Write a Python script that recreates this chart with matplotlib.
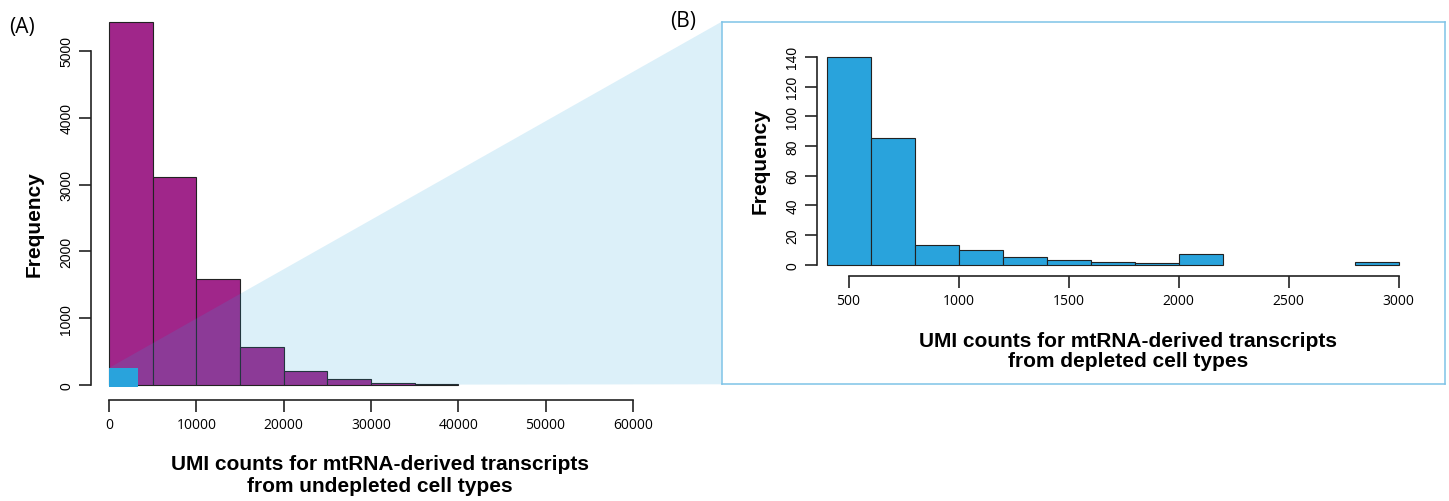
import matplotlib.pyplot as plt
import numpy as np
from matplotlib.patches import Polygon, Rectangle

# ── data ─────────────────────────────────────────────────────────────────────
undepleted_edges = [0, 5000, 10000, 15000, 20000, 25000, 30000, 35000, 40000]
undepleted_counts = [5440, 3110, 1580, 570, 210, 85, 25, 10]
undepleted_xticks = [0, 10000, 20000, 30000, 40000, 50000, 60000]
undepleted_yticks = [0, 1000, 2000, 3000, 4000, 5000]

depleted_edges = [400, 600, 800, 1000, 1200, 1400, 1600, 1800, 2000, 2200,
                  2400, 2600, 2800, 3000]
depleted_counts = [140, 85, 13, 10, 5, 3, 2, 1, 7, 0, 0, 0, 2]
depleted_xticks = [500, 1000, 1500, 2000, 2500, 3000]
depleted_yticks = [0, 20, 40, 60, 80, 100, 120, 140]

# region of panel A that panel B zooms into
zoom_x = (0, 3300)
zoom_y = (-25, 255)

PURPLE = '#A0268A'
BLUE = '#29A3DC'
LINE = '#222222'
TICK_FONT = 'Open Sans'
LABEL_FONT = 'Liberation Sans'

W, H = 1449, 502
fig = plt.figure(figsize=(W / 100, H / 100), dpi=100)
fig.patch.set_facecolor('white')


def px_axes(left, top, right, bottom, **kw):
    return fig.add_axes([left / W, 1 - bottom / H, (right - left) / W,
                         (bottom - top) / H], **kw)


def style_axes(ax, xb, yb):
    for s in ('top', 'right'):
        ax.spines[s].set_visible(False)
    for s in ('left', 'bottom'):
        ax.spines[s].set_color(LINE)
        ax.spines[s].set_linewidth(1.2)
    ax.spines['bottom'].set_bounds(*xb)
    ax.spines['left'].set_bounds(*yb)
    ax.tick_params(direction='out', length=8.5, width=1.2, color=LINE, pad=4)
    ax.tick_params(axis='y', labelrotation=90)
    for lab in ax.get_xticklabels():
        lab.set_fontfamily(TICK_FONT)
        lab.set_fontsize(10)
    for lab in ax.get_yticklabels():
        lab.set_fontfamily(LABEL_FONT)
        lab.set_fontsize(10)
        lab.set_va('center')
    ax.patch.set_alpha(0)


# ── panel A ──────────────────────────────────────────────────────────────────
ax_a = px_axes(90.7, 10, 700, 400.7)
ka = 10000 / 87.3
ax_a.set_xlim((90.7 - 109) * ka, (700 - 109) * ka)
kya = 1000 / 66.8
ax_a.set_ylim((386 - 400.7) * kya, (386 - 10) * kya)

ea = np.array(undepleted_edges)
ax_a.bar(ea[:-1], undepleted_counts, width=np.diff(ea), align='edge',
         color=PURPLE, edgecolor=LINE, linewidth=0.8, zorder=1)
ax_a.set_xticks(undepleted_xticks)
ax_a.set_yticks(undepleted_yticks)
style_axes(ax_a, (undepleted_xticks[0], undepleted_xticks[-1]),
           (undepleted_yticks[0], undepleted_yticks[-1]))

# ── panel B frame ────────────────────────────────────────────────────────────
ax_box = px_axes(721.7, 22.7, 1445.3, 385.3)
ax_box.set_xticks([])
ax_box.set_yticks([])
for s in ax_box.spines.values():
    s.set_color('#7EC3E7')
    s.set_linewidth(1.1)

# ── panel B ──────────────────────────────────────────────────────────────────
ax_b = px_axes(816.7, 40, 1420, 277)
kb = 500 / 110
ax_b.set_xlim((816.7 - 848.5) * kb + 500, (1420 - 848.5) * kb + 500)
kyb = 20 / 29.7
ax_b.set_ylim((265.7 - 277) * kyb, (265.7 - 40) * kyb)

eb = np.array(depleted_edges)
cb = np.array(depleted_counts)
keep = cb > 0
ax_b.bar(eb[:-1][keep], cb[keep], width=np.diff(eb)[keep], align='edge',
         color=BLUE, edgecolor=LINE, linewidth=0.8)
ax_b.set_xticks(depleted_xticks)
ax_b.set_yticks(depleted_yticks)
style_axes(ax_b, (depleted_xticks[0], depleted_xticks[-1]),
           (depleted_yticks[0], depleted_yticks[-1]))

# ── zoom connector ───────────────────────────────────────────────────────────
to_fig = fig.transFigure.inverted()
pts = [
    ax_a.transData.transform((zoom_x[0], zoom_y[1])),
    ax_box.transAxes.transform((0, 1)),
    ax_box.transAxes.transform((0, 0)),
    ax_a.transData.transform((zoom_x[0], 0)),
]
pts = to_fig.transform(np.array(pts))
ax_a.add_patch(Polygon(pts, closed=True, transform=fig.transFigure,
                       facecolor=BLUE, alpha=0.16, edgecolor='none',
                       clip_on=False, zorder=2))
ax_a.add_patch(Rectangle((zoom_x[0], zoom_y[0]), zoom_x[1] - zoom_x[0],
                         zoom_y[1] - zoom_y[0], facecolor=BLUE,
                         edgecolor='none', clip_on=False, zorder=3))

# ── text ─────────────────────────────────────────────────────────────────────
def ftext(x, y, s, **kw):
    fig.text(x / W, 1 - y / H, s, ha='center', va='center', **kw)


ftext(22, 27, '(A)', fontsize=15, family=TICK_FONT)
ftext(683, 21, '(B)', fontsize=15, family=TICK_FONT)

ftext(34, 224, 'Frequency', rotation=90, fontsize=15, fontweight='bold',
      family=LABEL_FONT)
ftext(760, 161, 'Frequency', rotation=90, fontsize=15, fontweight='bold',
      family=LABEL_FONT)

ftext(380, 475, 'UMI counts for mtRNA-derived transcripts\nfrom undepleted cell types',
      fontsize=15, fontweight='bold', family=LABEL_FONT, linespacing=1.2)
ftext(1128, 351.5, 'UMI counts for mtRNA-derived transcripts\nfrom depleted cell types',
      fontsize=15, fontweight='bold', family=LABEL_FONT, linespacing=1.1)

fig.savefig('out.png', dpi=100, facecolor='white')
